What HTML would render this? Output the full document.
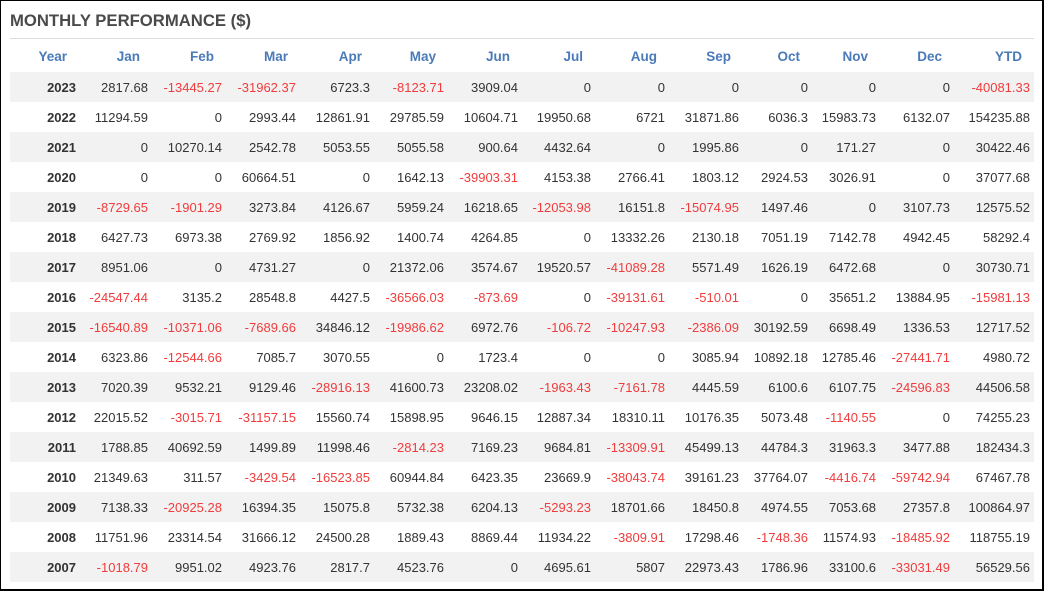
<!DOCTYPE html>
<html><head><meta charset="utf-8"><style>
html,body{margin:0;padding:0;background:#fff;}
body{width:1045px;height:592px;position:relative;overflow:hidden;font-family:"Liberation Sans",Arial,sans-serif;}
.frame{position:absolute;left:0;top:0;width:1041px;height:588px;border:2px solid #000;border-left-width:1px;border-top-width:1px;}
.title{position:absolute;left:10px;top:11px;font-size:16.7px;font-weight:bold;color:#4a4a4a;}
.sep{position:absolute;left:10px;top:38px;width:1024px;height:1px;background:#ddd;}
table{position:absolute;left:10px;top:40px;border-collapse:collapse;table-layout:fixed;width:1024px;font-size:13px;}
th{height:32px;color:#4a7ab8;font-weight:bold;text-align:right;padding:0 12px 0 0;font-size:13.5px;}
th:first-child{padding-right:13px;}
td{height:30px;padding:0 4px 0 0;text-align:right;color:#333;}
td:first-child{font-weight:bold;}
tr.g td{background:#f2f2f2;}
.n{color:#f03c3c;}
</style></head><body>
<div class="frame"></div>
<div class="title">MONTHLY PERFORMANCE ($)</div>
<div class="sep"></div>
<table>
<colgroup><col style="width:70px"><col style="width:72px"><col style="width:74px"><col style="width:74px"><col style="width:74px"><col style="width:74px"><col style="width:74px"><col style="width:73px"><col style="width:74px"><col style="width:74px"><col style="width:69px"><col style="width:68px"><col style="width:74px"><col style="width:80px"></colgroup>
<tr><th>Year</th><th>Jan</th><th>Feb</th><th>Mar</th><th>Apr</th><th>May</th><th>Jun</th><th>Jul</th><th>Aug</th><th>Sep</th><th>Oct</th><th>Nov</th><th>Dec</th><th>YTD</th></tr>
<tr class="g"><td>2023</td><td>2817.68</td><td class="n">-13445.27</td><td class="n">-31962.37</td><td>6723.3</td><td class="n">-8123.71</td><td>3909.04</td><td>0</td><td>0</td><td>0</td><td>0</td><td>0</td><td>0</td><td class="n">-40081.33</td></tr>
<tr><td>2022</td><td>11294.59</td><td>0</td><td>2993.44</td><td>12861.91</td><td>29785.59</td><td>10604.71</td><td>19950.68</td><td>6721</td><td>31871.86</td><td>6036.3</td><td>15983.73</td><td>6132.07</td><td>154235.88</td></tr>
<tr class="g"><td>2021</td><td>0</td><td>10270.14</td><td>2542.78</td><td>5053.55</td><td>5055.58</td><td>900.64</td><td>4432.64</td><td>0</td><td>1995.86</td><td>0</td><td>171.27</td><td>0</td><td>30422.46</td></tr>
<tr><td>2020</td><td>0</td><td>0</td><td>60664.51</td><td>0</td><td>1642.13</td><td class="n">-39903.31</td><td>4153.38</td><td>2766.41</td><td>1803.12</td><td>2924.53</td><td>3026.91</td><td>0</td><td>37077.68</td></tr>
<tr class="g"><td>2019</td><td class="n">-8729.65</td><td class="n">-1901.29</td><td>3273.84</td><td>4126.67</td><td>5959.24</td><td>16218.65</td><td class="n">-12053.98</td><td>16151.8</td><td class="n">-15074.95</td><td>1497.46</td><td>0</td><td>3107.73</td><td>12575.52</td></tr>
<tr><td>2018</td><td>6427.73</td><td>6973.38</td><td>2769.92</td><td>1856.92</td><td>1400.74</td><td>4264.85</td><td>0</td><td>13332.26</td><td>2130.18</td><td>7051.19</td><td>7142.78</td><td>4942.45</td><td>58292.4</td></tr>
<tr class="g"><td>2017</td><td>8951.06</td><td>0</td><td>4731.27</td><td>0</td><td>21372.06</td><td>3574.67</td><td>19520.57</td><td class="n">-41089.28</td><td>5571.49</td><td>1626.19</td><td>6472.68</td><td>0</td><td>30730.71</td></tr>
<tr><td>2016</td><td class="n">-24547.44</td><td>3135.2</td><td>28548.8</td><td>4427.5</td><td class="n">-36566.03</td><td class="n">-873.69</td><td>0</td><td class="n">-39131.61</td><td class="n">-510.01</td><td>0</td><td>35651.2</td><td>13884.95</td><td class="n">-15981.13</td></tr>
<tr class="g"><td>2015</td><td class="n">-16540.89</td><td class="n">-10371.06</td><td class="n">-7689.66</td><td>34846.12</td><td class="n">-19986.62</td><td>6972.76</td><td class="n">-106.72</td><td class="n">-10247.93</td><td class="n">-2386.09</td><td>30192.59</td><td>6698.49</td><td>1336.53</td><td>12717.52</td></tr>
<tr><td>2014</td><td>6323.86</td><td class="n">-12544.66</td><td>7085.7</td><td>3070.55</td><td>0</td><td>1723.4</td><td>0</td><td>0</td><td>3085.94</td><td>10892.18</td><td>12785.46</td><td class="n">-27441.71</td><td>4980.72</td></tr>
<tr class="g"><td>2013</td><td>7020.39</td><td>9532.21</td><td>9129.46</td><td class="n">-28916.13</td><td>41600.73</td><td>23208.02</td><td class="n">-1963.43</td><td class="n">-7161.78</td><td>4445.59</td><td>6100.6</td><td>6107.75</td><td class="n">-24596.83</td><td>44506.58</td></tr>
<tr><td>2012</td><td>22015.52</td><td class="n">-3015.71</td><td class="n">-31157.15</td><td>15560.74</td><td>15898.95</td><td>9646.15</td><td>12887.34</td><td>18310.11</td><td>10176.35</td><td>5073.48</td><td class="n">-1140.55</td><td>0</td><td>74255.23</td></tr>
<tr class="g"><td>2011</td><td>1788.85</td><td>40692.59</td><td>1499.89</td><td>11998.46</td><td class="n">-2814.23</td><td>7169.23</td><td>9684.81</td><td class="n">-13309.91</td><td>45499.13</td><td>44784.3</td><td>31963.3</td><td>3477.88</td><td>182434.3</td></tr>
<tr><td>2010</td><td>21349.63</td><td>311.57</td><td class="n">-3429.54</td><td class="n">-16523.85</td><td>60944.84</td><td>6423.35</td><td>23669.9</td><td class="n">-38043.74</td><td>39161.23</td><td>37764.07</td><td class="n">-4416.74</td><td class="n">-59742.94</td><td>67467.78</td></tr>
<tr class="g"><td>2009</td><td>7138.33</td><td class="n">-20925.28</td><td>16394.35</td><td>15075.8</td><td>5732.38</td><td>6204.13</td><td class="n">-5293.23</td><td>18701.66</td><td>18450.8</td><td>4974.55</td><td>7053.68</td><td>27357.8</td><td>100864.97</td></tr>
<tr><td>2008</td><td>11751.96</td><td>23314.54</td><td>31666.12</td><td>24500.28</td><td>1889.43</td><td>8869.44</td><td>11934.22</td><td class="n">-3809.91</td><td>17298.46</td><td class="n">-1748.36</td><td>11574.93</td><td class="n">-18485.92</td><td>118755.19</td></tr>
<tr class="g"><td>2007</td><td class="n">-1018.79</td><td>9951.02</td><td>4923.76</td><td>2817.7</td><td>4523.76</td><td>0</td><td>4695.61</td><td>5807</td><td>22973.43</td><td>1786.96</td><td>33100.6</td><td class="n">-33031.49</td><td>56529.56</td></tr>
</table>
</body></html>
